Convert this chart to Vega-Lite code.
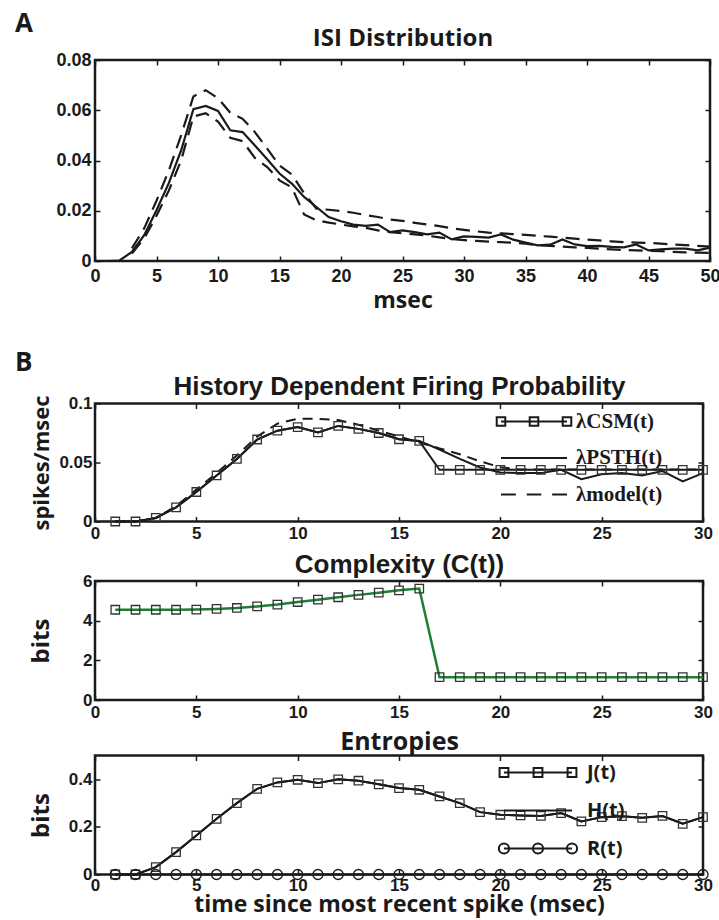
{
  "$schema": "https://vega.github.io/schema/vega-lite/v6.json",
  "padding": {"left": 13, "top": 9, "right": 0, "bottom": 0},
  "spacing": 5.5,
  "resolve": {"scale": {"shape": "independent"}, "legend": {"shape": "independent"}},
  "config": {
    "view": {"stroke": "#1a1a1a", "strokeWidth": 2.5},
    "axis": {"grid": false, "domain": false, "tickColor": "#1a1a1a", "tickSize": -5, "tickWidth": 1.5,
      "labelFont": "Liberation Sans", "labelFontWeight": "bold", "labelColor": "#1a1a1a", "labelFontSize": 17,
      "titleFont": "Open Sans", "titleFontWeight": "bold", "titleColor": "#1a1a1a",
      "labelFlush": false, "labelOverlap": false},
    "legend": {"padding": 0, "labelColor": "#1a1a1a", "symbolOpacity": 1, "symbolStrokeWidth": 2},
    "title": {"font": "Open Sans", "fontWeight": "bold", "fontSize": 26, "color": "#1a1a1a", "anchor": "start", "frame": "group"}
  },
  "vconcat": [
    {
      "width": 615, "height": 201,
      "title": {"text": "A", "dx": -80, "offset": -11},
      "data": {"values": [
        {"t":1,"v":0,"s":"ISI"},{"t":2,"v":0.0002,"s":"ISI"},{"t":3,"v":0.0036,"s":"ISI"},{"t":4,"v":0.0103,"s":"ISI"},{"t":5,"v":0.0202,"s":"ISI"},
        {"t":6,"v":0.031,"s":"ISI"},{"t":7,"v":0.044,"s":"ISI"},{"t":8,"v":0.0604,"s":"ISI"},{"t":9,"v":0.0617,"s":"ISI"},{"t":10,"v":0.0597,"s":"ISI"},
        {"t":11,"v":0.052,"s":"ISI"},{"t":12,"v":0.0513,"s":"ISI"},{"t":13,"v":0.046,"s":"ISI"},{"t":14,"v":0.0405,"s":"ISI"},{"t":15,"v":0.0348,"s":"ISI"},
        {"t":16,"v":0.0308,"s":"ISI"},{"t":17,"v":0.0255,"s":"ISI"},{"t":18,"v":0.0215,"s":"ISI"},{"t":19,"v":0.0175,"s":"ISI"},{"t":20,"v":0.0158,"s":"ISI"},
        {"t":21,"v":0.0145,"s":"ISI"},{"t":22,"v":0.014,"s":"ISI"},{"t":23,"v":0.0145,"s":"ISI"},{"t":24,"v":0.0115,"s":"ISI"},{"t":25,"v":0.0122,"s":"ISI"},
        {"t":26,"v":0.0115,"s":"ISI"},{"t":27,"v":0.0106,"s":"ISI"},{"t":28,"v":0.0113,"s":"ISI"},{"t":29,"v":0.0086,"s":"ISI"},{"t":30,"v":0.0098,"s":"ISI"},
        {"t":31,"v":0.0096,"s":"ISI"},{"t":32,"v":0.0093,"s":"ISI"},{"t":33,"v":0.0106,"s":"ISI"},{"t":34,"v":0.0085,"s":"ISI"},{"t":35,"v":0.0073,"s":"ISI"},
        {"t":36,"v":0.0062,"s":"ISI"},{"t":37,"v":0.0065,"s":"ISI"},{"t":38,"v":0.0086,"s":"ISI"},{"t":39,"v":0.0066,"s":"ISI"},{"t":40,"v":0.0059,"s":"ISI"},
        {"t":41,"v":0.006,"s":"ISI"},{"t":42,"v":0.0056,"s":"ISI"},{"t":43,"v":0.0054,"s":"ISI"},{"t":44,"v":0.0066,"s":"ISI"},{"t":45,"v":0.0042,"s":"ISI"},
        {"t":46,"v":0.0046,"s":"ISI"},{"t":47,"v":0.0049,"s":"ISI"},{"t":48,"v":0.0049,"s":"ISI"},{"t":49,"v":0.0042,"s":"ISI"},{"t":50,"v":0.0053,"s":"ISI"},
        {"t":3,"v":0.005,"s":"upper"},{"t":4,"v":0.013,"s":"upper"},{"t":5,"v":0.024,"s":"upper"},{"t":6,"v":0.036,"s":"upper"},{"t":7,"v":0.05,"s":"upper"},
        {"t":8,"v":0.0655,"s":"upper"},{"t":9,"v":0.068,"s":"upper"},{"t":10,"v":0.0648,"s":"upper"},{"t":11,"v":0.059,"s":"upper"},{"t":12,"v":0.0566,"s":"upper"},
        {"t":13,"v":0.0513,"s":"upper"},{"t":14,"v":0.0447,"s":"upper"},{"t":15,"v":0.038,"s":"upper"},{"t":16,"v":0.0345,"s":"upper"},{"t":17,"v":0.027,"s":"upper"},
        {"t":18,"v":0.0208,"s":"upper"},{"t":19,"v":0.0204,"s":"upper"},{"t":20,"v":0.0199,"s":"upper"},{"t":21,"v":0.0192,"s":"upper"},{"t":22,"v":0.0183,"s":"upper"},
        {"t":23,"v":0.0175,"s":"upper"},{"t":24,"v":0.0165,"s":"upper"},{"t":25,"v":0.016,"s":"upper"},{"t":26,"v":0.0152,"s":"upper"},{"t":27,"v":0.0145,"s":"upper"},
        {"t":28,"v":0.0139,"s":"upper"},{"t":29,"v":0.013,"s":"upper"},{"t":30,"v":0.0124,"s":"upper"},{"t":31,"v":0.0118,"s":"upper"},{"t":32,"v":0.0113,"s":"upper"},
        {"t":33,"v":0.011,"s":"upper"},{"t":34,"v":0.0107,"s":"upper"},{"t":35,"v":0.0104,"s":"upper"},{"t":36,"v":0.01,"s":"upper"},{"t":37,"v":0.0097,"s":"upper"},
        {"t":38,"v":0.0093,"s":"upper"},{"t":39,"v":0.0089,"s":"upper"},{"t":40,"v":0.0085,"s":"upper"},{"t":41,"v":0.0082,"s":"upper"},{"t":42,"v":0.0078,"s":"upper"},
        {"t":43,"v":0.0075,"s":"upper"},{"t":44,"v":0.0073,"s":"upper"},{"t":45,"v":0.0072,"s":"upper"},{"t":46,"v":0.0069,"s":"upper"},{"t":47,"v":0.0066,"s":"upper"},
        {"t":48,"v":0.0063,"s":"upper"},{"t":49,"v":0.006,"s":"upper"},{"t":50,"v":0.0057,"s":"upper"},
        {"t":3,"v":0.003,"s":"lower"},{"t":4,"v":0.009,"s":"lower"},{"t":5,"v":0.018,"s":"lower"},{"t":6,"v":0.028,"s":"lower"},{"t":7,"v":0.04,"s":"lower"},
        {"t":8,"v":0.0575,"s":"lower"},{"t":9,"v":0.0588,"s":"lower"},{"t":10,"v":0.0555,"s":"lower"},{"t":11,"v":0.049,"s":"lower"},{"t":12,"v":0.0477,"s":"lower"},
        {"t":13,"v":0.041,"s":"lower"},{"t":14,"v":0.0374,"s":"lower"},{"t":15,"v":0.0321,"s":"lower"},{"t":16,"v":0.0293,"s":"lower"},{"t":17,"v":0.0185,"s":"lower"},
        {"t":18,"v":0.0162,"s":"lower"},{"t":19,"v":0.0153,"s":"lower"},{"t":20,"v":0.0145,"s":"lower"},{"t":21,"v":0.0138,"s":"lower"},{"t":22,"v":0.0132,"s":"lower"},
        {"t":23,"v":0.0122,"s":"lower"},{"t":24,"v":0.0115,"s":"lower"},{"t":25,"v":0.011,"s":"lower"},{"t":26,"v":0.0106,"s":"lower"},{"t":27,"v":0.0101,"s":"lower"},
        {"t":28,"v":0.0094,"s":"lower"},{"t":29,"v":0.0087,"s":"lower"},{"t":30,"v":0.0083,"s":"lower"},{"t":31,"v":0.008,"s":"lower"},{"t":32,"v":0.0077,"s":"lower"},
        {"t":33,"v":0.0075,"s":"lower"},{"t":34,"v":0.0073,"s":"lower"},{"t":35,"v":0.0069,"s":"lower"},{"t":36,"v":0.0063,"s":"lower"},{"t":37,"v":0.006,"s":"lower"},
        {"t":38,"v":0.0057,"s":"lower"},{"t":39,"v":0.0054,"s":"lower"},{"t":40,"v":0.0052,"s":"lower"},{"t":41,"v":0.0049,"s":"lower"},{"t":42,"v":0.0046,"s":"lower"},
        {"t":43,"v":0.0044,"s":"lower"},{"t":44,"v":0.0042,"s":"lower"},{"t":45,"v":0.0041,"s":"lower"},{"t":46,"v":0.0039,"s":"lower"},{"t":47,"v":0.0036,"s":"lower"},
        {"t":48,"v":0.0034,"s":"lower"},{"t":49,"v":0.0033,"s":"lower"},{"t":50,"v":0.0032,"s":"lower"}
      ]},
      "layer": [
        {
          "transform": [{"filter": "datum.s === 'ISI'"}],
          "mark": {"type": "line", "color": "#1a1a1a", "strokeWidth": 2.2},
          "encoding": {
            "x": {"field": "t", "type": "quantitative", "scale": {"domain": [0, 50], "nice": false},
              "axis": {"orient": "bottom", "values": [0,5,10,15,20,25,30,35,40,45,50], "title": "msec", "titleFontSize": 23, "titlePadding": 4, "labelFontSize": 18, "labelPadding": 11}},
            "y": {"field": "v", "type": "quantitative", "scale": {"domain": [0, 0.08], "nice": false},
              "axis": {"orient": "left", "values": [0,0.02,0.04,0.06,0.08], "format": ".2~f", "title": null, "labelFontSize": 18, "labelPadding": 9}}
          }
        },
        {
          "transform": [{"filter": "datum.s !== 'ISI'"}],
          "mark": {"type": "line", "color": "#1a1a1a", "strokeWidth": 2.2, "strokeDash": [14, 8]},
          "encoding": {
            "x": {"field": "t", "type": "quantitative", "scale": {"domain": [0, 50], "nice": false},
              "axis": {"orient": "top", "values": [0,5,10,15,20,25,30,35,40,45,50], "labels": false, "title": "ISI Distribution", "titleFontSize": 24, "minExtent": 0, "maxExtent": 0, "titlePadding": 10}},
            "y": {"field": "v", "type": "quantitative", "scale": {"domain": [0, 0.08], "nice": false},
              "axis": {"orient": "right", "values": [0,0.02,0.04,0.06,0.08], "labels": false, "title": null}},
            "detail": {"field": "s"}
          }
        }
      ],
      "resolve": {"axis": {"x": "independent", "y": "independent"}}
    },
    {
      "width": 608, "height": 118,
      "title": {"text": ["", "B"], "lineHeight": 28, "dx": -80, "offset": -2},
      "data": {"values": [
        {"t":1,"v":0,"s":"λCSM(t)"},{"t":2,"v":0,"s":"λCSM(t)"},{"t":3,"v":0.003,"s":"λCSM(t)"},{"t":4,"v":0.012,"s":"λCSM(t)"},{"t":5,"v":0.025,"s":"λCSM(t)"},
        {"t":6,"v":0.039,"s":"λCSM(t)"},{"t":7,"v":0.053,"s":"λCSM(t)"},{"t":8,"v":0.0695,"s":"λCSM(t)"},{"t":9,"v":0.077,"s":"λCSM(t)"},{"t":10,"v":0.08,"s":"λCSM(t)"},
        {"t":11,"v":0.0755,"s":"λCSM(t)"},{"t":12,"v":0.081,"s":"λCSM(t)"},{"t":13,"v":0.0785,"s":"λCSM(t)"},{"t":14,"v":0.075,"s":"λCSM(t)"},{"t":15,"v":0.0697,"s":"λCSM(t)"},
        {"t":16,"v":0.0683,"s":"λCSM(t)"},{"t":17,"v":0.0438,"s":"λCSM(t)"},{"t":18,"v":0.0438,"s":"λCSM(t)"},{"t":19,"v":0.0438,"s":"λCSM(t)"},{"t":20,"v":0.0438,"s":"λCSM(t)"},
        {"t":21,"v":0.0438,"s":"λCSM(t)"},{"t":22,"v":0.0438,"s":"λCSM(t)"},{"t":23,"v":0.0438,"s":"λCSM(t)"},{"t":24,"v":0.0438,"s":"λCSM(t)"},{"t":25,"v":0.0438,"s":"λCSM(t)"},
        {"t":26,"v":0.0438,"s":"λCSM(t)"},{"t":27,"v":0.0438,"s":"λCSM(t)"},{"t":28,"v":0.0438,"s":"λCSM(t)"},{"t":29,"v":0.0438,"s":"λCSM(t)"},{"t":30,"v":0.0438,"s":"λCSM(t)"},
        {"t":1,"v":0,"s":"λPSTH(t)"},{"t":2,"v":0,"s":"λPSTH(t)"},{"t":3,"v":0.003,"s":"λPSTH(t)"},{"t":4,"v":0.012,"s":"λPSTH(t)"},{"t":5,"v":0.025,"s":"λPSTH(t)"},
        {"t":6,"v":0.039,"s":"λPSTH(t)"},{"t":7,"v":0.053,"s":"λPSTH(t)"},{"t":8,"v":0.0695,"s":"λPSTH(t)"},{"t":9,"v":0.077,"s":"λPSTH(t)"},{"t":10,"v":0.08,"s":"λPSTH(t)"},
        {"t":11,"v":0.0755,"s":"λPSTH(t)"},{"t":12,"v":0.081,"s":"λPSTH(t)"},{"t":13,"v":0.0785,"s":"λPSTH(t)"},{"t":14,"v":0.075,"s":"λPSTH(t)"},{"t":15,"v":0.0697,"s":"λPSTH(t)"},
        {"t":16,"v":0.0683,"s":"λPSTH(t)"},{"t":17,"v":0.061,"s":"λPSTH(t)"},{"t":18,"v":0.053,"s":"λPSTH(t)"},{"t":19,"v":0.0458,"s":"λPSTH(t)"},{"t":20,"v":0.0415,"s":"λPSTH(t)"},
        {"t":21,"v":0.041,"s":"λPSTH(t)"},{"t":22,"v":0.041,"s":"λPSTH(t)"},{"t":23,"v":0.0438,"s":"λPSTH(t)"},{"t":24,"v":0.0358,"s":"λPSTH(t)"},{"t":25,"v":0.04,"s":"λPSTH(t)"},
        {"t":26,"v":0.041,"s":"λPSTH(t)"},{"t":27,"v":0.039,"s":"λPSTH(t)"},{"t":28,"v":0.0427,"s":"λPSTH(t)"},{"t":29,"v":0.034,"s":"λPSTH(t)"},{"t":30,"v":0.041,"s":"λPSTH(t)"},
        {"t":1,"v":0,"s":"λmodel(t)"},{"t":2,"v":0,"s":"λmodel(t)"},{"t":3,"v":0.003,"s":"λmodel(t)"},{"t":4,"v":0.013,"s":"λmodel(t)"},{"t":5,"v":0.027,"s":"λmodel(t)"},
        {"t":6,"v":0.041,"s":"λmodel(t)"},{"t":7,"v":0.056,"s":"λmodel(t)"},{"t":8,"v":0.072,"s":"λmodel(t)"},{"t":9,"v":0.083,"s":"λmodel(t)"},{"t":10,"v":0.087,"s":"λmodel(t)"},
        {"t":11,"v":0.087,"s":"λmodel(t)"},{"t":12,"v":0.086,"s":"λmodel(t)"},{"t":13,"v":0.082,"s":"λmodel(t)"},{"t":14,"v":0.077,"s":"λmodel(t)"},{"t":15,"v":0.072,"s":"λmodel(t)"},
        {"t":16,"v":0.067,"s":"λmodel(t)"},{"t":17,"v":0.062,"s":"λmodel(t)"},{"t":18,"v":0.057,"s":"λmodel(t)"},{"t":19,"v":0.051,"s":"λmodel(t)"},{"t":20,"v":0.046,"s":"λmodel(t)"},
        {"t":21,"v":0.044,"s":"λmodel(t)"},{"t":22,"v":0.044,"s":"λmodel(t)"},{"t":23,"v":0.044,"s":"λmodel(t)"},{"t":24,"v":0.044,"s":"λmodel(t)"},{"t":25,"v":0.044,"s":"λmodel(t)"},
        {"t":26,"v":0.044,"s":"λmodel(t)"},{"t":27,"v":0.044,"s":"λmodel(t)"},{"t":28,"v":0.044,"s":"λmodel(t)"},{"t":29,"v":0.044,"s":"λmodel(t)"},{"t":30,"v":0.044,"s":"λmodel(t)"}
      ]},
      "layer": [
        {
          "transform": [{"filter": "datum.s !== 'λmodel(t)'"}],
          "mark": {"type": "line", "color": "#1a1a1a", "strokeWidth": 2},
          "encoding": {
            "x": {"field": "t", "type": "quantitative", "scale": {"domain": [0, 30], "nice": false},
              "axis": {"orient": "bottom", "values": [0,5,10,15,20,25,30], "title": null, "labelPadding": 9}},
            "y": {"field": "v", "type": "quantitative", "scale": {"domain": [0, 0.1], "nice": false},
              "axis": {"orient": "left", "values": [0,0.05,0.1], "format": ".2~f", "title": "spikes/msec", "titleFontSize": 22, "labelPadding": 8, "minExtent": 36, "maxExtent": 36, "titlePadding": 6}},
            "detail": {"field": "s"}
          }
        },
        {
          "transform": [{"filter": "datum.s === 'λmodel(t)'"}],
          "mark": {"type": "line", "color": "#1a1a1a", "strokeWidth": 2, "strokeDash": [10, 7]},
          "encoding": {
            "x": {"field": "t", "type": "quantitative", "axis": null},
            "y": {"field": "v", "type": "quantitative", "axis": null}
          }
        },
        {
          "transform": [{"filter": "datum.s === 'λCSM(t)'"}],
          "mark": {"type": "point", "shape": "square", "filled": false, "color": "#333333", "size": 72, "strokeWidth": 1.3, "opacity": 1},
          "encoding": {
            "x": {"field": "t", "type": "quantitative", "scale": {"domain": [0, 30], "nice": false},
              "axis": {"orient": "top", "values": [0,5,10,15,20,25,30], "labels": false, "title": "History Dependent Firing Probability", "titleFont": "Liberation Sans", "titleFontSize": 26, "minExtent": 0, "maxExtent": 0, "titlePadding": 4}},
            "y": {"field": "v", "type": "quantitative", "scale": {"domain": [0, 0.1], "nice": false},
              "axis": {"orient": "right", "values": [0,0.05,0.1], "labels": false, "title": null}}
          }
        },
        {
          "mark": {"type": "point", "filled": false, "color": "#1a1a1a", "size": 1, "opacity": 0},
          "encoding": {
            "x": {"field": "t", "type": "quantitative", "axis": null},
            "y": {"field": "v", "type": "quantitative", "axis": null},
            "shape": {"field": "s", "type": "nominal",
              "scale": {"domain": ["λCSM(t)","λPSTH(t)","λmodel(t)"],
                "range": ["M-1,0H1M-1.13,-0.13h0.26v0.26h-0.26ZM-0.13,-0.13h0.26v0.26h-0.26ZM0.87,-0.13h0.26v0.26h-0.26Z", "M-1,0H1", "M-1,0H-0.55M-0.22,0H0.22M0.55,0H1"]},
              "legend": {"title": null, "orient": "none", "legendX": 400, "legendY": 6, "symbolSize": 4356, "clipHeight": 24, "rowPadding": 12.5,
                "labelFont": "Liberation Serif", "labelFontSize": 21, "labelFontWeight": "bold", "labelOffset": 8, "symbolOffset": 5, "labelLimit": 300}}
          }
        }
      ],
      "resolve": {"axis": {"x": "independent", "y": "independent"}}
    },
    {
      "width": 608, "height": 119,
      "data": {"values": [
        {"t":1,"c":4.55},{"t":2,"c":4.55},{"t":3,"c":4.55},{"t":4,"c":4.55},{"t":5,"c":4.56},{"t":6,"c":4.59},{"t":7,"c":4.64},{"t":8,"c":4.72},{"t":9,"c":4.81},{"t":10,"c":4.94},
        {"t":11,"c":5.06},{"t":12,"c":5.18},{"t":13,"c":5.3},{"t":14,"c":5.41},{"t":15,"c":5.53},{"t":16,"c":5.62},{"t":17,"c":1.15},{"t":18,"c":1.15},{"t":19,"c":1.15},{"t":20,"c":1.15},
        {"t":21,"c":1.15},{"t":22,"c":1.15},{"t":23,"c":1.15},{"t":24,"c":1.15},{"t":25,"c":1.15},{"t":26,"c":1.15},{"t":27,"c":1.15},{"t":28,"c":1.15},{"t":29,"c":1.15},{"t":30,"c":1.15}
      ]},
      "layer": [
        {
          "mark": {"type": "line", "color": "#1f7d34", "strokeWidth": 2.5},
          "encoding": {
            "x": {"field": "t", "type": "quantitative", "scale": {"domain": [0, 30], "nice": false},
              "axis": {"orient": "bottom", "values": [0,5,10,15,20,25,30], "title": null, "labelPadding": 9}},
            "y": {"field": "c", "type": "quantitative", "scale": {"domain": [0, 6], "nice": false},
              "axis": {"orient": "left", "values": [0,2,4,6], "title": "bits", "titleFontSize": 24, "labelPadding": 8, "minExtent": 36, "maxExtent": 36, "titlePadding": 6}}
          }
        },
        {
          "mark": {"type": "point", "shape": "square", "filled": false, "color": "#333333", "size": 72, "strokeWidth": 1.3, "opacity": 1},
          "encoding": {
            "x": {"field": "t", "type": "quantitative", "scale": {"domain": [0, 30], "nice": false},
              "axis": {"orient": "top", "values": [0,5,10,15,20,25,30], "labels": false, "title": "Complexity (C(t))", "titleFont": "Liberation Sans", "titleFontSize": 26, "minExtent": 0, "maxExtent": 0, "titlePadding": 4}},
            "y": {"field": "c", "type": "quantitative", "scale": {"domain": [0, 6], "nice": false},
              "axis": {"orient": "right", "values": [0,2,4,6], "labels": false, "title": null}}
          }
        }
      ],
      "resolve": {"axis": {"x": "independent", "y": "independent"}}
    },
    {
      "width": 608, "height": 119,
      "data": {"values": [
        {"t":1,"v":0,"s":"J(t)"},{"t":2,"v":0,"s":"J(t)"},{"t":3,"v":0.031,"s":"J(t)"},{"t":4,"v":0.094,"s":"J(t)"},{"t":5,"v":0.164,"s":"J(t)"},
        {"t":6,"v":0.234,"s":"J(t)"},{"t":7,"v":0.3,"s":"J(t)"},{"t":8,"v":0.36,"s":"J(t)"},{"t":9,"v":0.387,"s":"J(t)"},{"t":10,"v":0.398,"s":"J(t)"},
        {"t":11,"v":0.384,"s":"J(t)"},{"t":12,"v":0.4,"s":"J(t)"},{"t":13,"v":0.394,"s":"J(t)"},{"t":14,"v":0.379,"s":"J(t)"},{"t":15,"v":0.363,"s":"J(t)"},
        {"t":16,"v":0.356,"s":"J(t)"},{"t":17,"v":0.328,"s":"J(t)"},{"t":18,"v":0.3,"s":"J(t)"},{"t":19,"v":0.262,"s":"J(t)"},{"t":20,"v":0.251,"s":"J(t)"},
        {"t":21,"v":0.248,"s":"J(t)"},{"t":22,"v":0.246,"s":"J(t)"},{"t":23,"v":0.258,"s":"J(t)"},{"t":24,"v":0.223,"s":"J(t)"},{"t":25,"v":0.241,"s":"J(t)"},
        {"t":26,"v":0.245,"s":"J(t)"},{"t":27,"v":0.238,"s":"J(t)"},{"t":28,"v":0.246,"s":"J(t)"},{"t":29,"v":0.213,"s":"J(t)"},{"t":30,"v":0.241,"s":"J(t)"},
        {"t":1,"v":0,"s":"H(t)"},{"t":2,"v":0,"s":"H(t)"},{"t":3,"v":0.031,"s":"H(t)"},{"t":4,"v":0.094,"s":"H(t)"},{"t":5,"v":0.164,"s":"H(t)"},
        {"t":6,"v":0.234,"s":"H(t)"},{"t":7,"v":0.3,"s":"H(t)"},{"t":8,"v":0.36,"s":"H(t)"},{"t":9,"v":0.387,"s":"H(t)"},{"t":10,"v":0.398,"s":"H(t)"},
        {"t":11,"v":0.384,"s":"H(t)"},{"t":12,"v":0.4,"s":"H(t)"},{"t":13,"v":0.394,"s":"H(t)"},{"t":14,"v":0.379,"s":"H(t)"},{"t":15,"v":0.363,"s":"H(t)"},
        {"t":16,"v":0.356,"s":"H(t)"},{"t":17,"v":0.328,"s":"H(t)"},{"t":18,"v":0.3,"s":"H(t)"},{"t":19,"v":0.262,"s":"H(t)"},{"t":20,"v":0.251,"s":"H(t)"},
        {"t":21,"v":0.248,"s":"H(t)"},{"t":22,"v":0.246,"s":"H(t)"},{"t":23,"v":0.258,"s":"H(t)"},{"t":24,"v":0.223,"s":"H(t)"},{"t":25,"v":0.241,"s":"H(t)"},
        {"t":26,"v":0.245,"s":"H(t)"},{"t":27,"v":0.238,"s":"H(t)"},{"t":28,"v":0.246,"s":"H(t)"},{"t":29,"v":0.213,"s":"H(t)"},{"t":30,"v":0.241,"s":"H(t)"},
        {"t":1,"v":0,"s":"R(t)"},{"t":2,"v":0,"s":"R(t)"},{"t":3,"v":0,"s":"R(t)"},{"t":4,"v":0,"s":"R(t)"},{"t":5,"v":0,"s":"R(t)"},
        {"t":6,"v":0,"s":"R(t)"},{"t":7,"v":0,"s":"R(t)"},{"t":8,"v":0,"s":"R(t)"},{"t":9,"v":0,"s":"R(t)"},{"t":10,"v":0,"s":"R(t)"},
        {"t":11,"v":0,"s":"R(t)"},{"t":12,"v":0,"s":"R(t)"},{"t":13,"v":0,"s":"R(t)"},{"t":14,"v":0,"s":"R(t)"},{"t":15,"v":0,"s":"R(t)"},
        {"t":16,"v":0,"s":"R(t)"},{"t":17,"v":0,"s":"R(t)"},{"t":18,"v":0,"s":"R(t)"},{"t":19,"v":0,"s":"R(t)"},{"t":20,"v":0,"s":"R(t)"},
        {"t":21,"v":0,"s":"R(t)"},{"t":22,"v":0,"s":"R(t)"},{"t":23,"v":0,"s":"R(t)"},{"t":24,"v":0,"s":"R(t)"},{"t":25,"v":0,"s":"R(t)"},
        {"t":26,"v":0,"s":"R(t)"},{"t":27,"v":0,"s":"R(t)"},{"t":28,"v":0,"s":"R(t)"},{"t":29,"v":0,"s":"R(t)"},{"t":30,"v":0,"s":"R(t)"}
      ]},
      "layer": [
        {
          "mark": {"type": "line", "color": "#1a1a1a", "strokeWidth": 2},
          "encoding": {
            "x": {"field": "t", "type": "quantitative", "scale": {"domain": [0, 30], "nice": false},
              "axis": {"orient": "bottom", "values": [0,5,10,15,20,25,30], "title": "time since most recent spike (msec)", "titleFontSize": 23, "titlePadding": 0, "labelPadding": 8}},
            "y": {"field": "v", "type": "quantitative", "scale": {"domain": [0, 0.5], "nice": false},
              "axis": {"orient": "left", "values": [0,0.2,0.4], "format": ".1~f", "title": "bits", "titleFontSize": 24, "labelPadding": 8, "minExtent": 36, "maxExtent": 36, "titlePadding": 6}},
            "detail": {"field": "s"}
          }
        },
        {
          "transform": [{"filter": "datum.s === 'J(t)'"}],
          "mark": {"type": "point", "shape": "square", "filled": false, "color": "#333333", "size": 72, "strokeWidth": 1.3, "opacity": 1},
          "encoding": {
            "x": {"field": "t", "type": "quantitative", "scale": {"domain": [0, 30], "nice": false},
              "axis": {"orient": "top", "values": [0,5,10,15,20,25,30], "labels": false, "title": "Entropies", "titleFontSize": 25, "minExtent": 0, "maxExtent": 0, "titlePadding": 1.5}},
            "y": {"field": "v", "type": "quantitative", "scale": {"domain": [0, 0.5], "nice": false},
              "axis": {"orient": "right", "values": [0,0.2,0.4], "labels": false, "title": null}}
          }
        },
        {
          "transform": [{"filter": "datum.s === 'R(t)'"}],
          "mark": {"type": "point", "shape": "circle", "filled": false, "color": "#1a1a1a", "size": 100, "strokeWidth": 1.3, "opacity": 1},
          "encoding": {
            "x": {"field": "t", "type": "quantitative", "axis": null},
            "y": {"field": "v", "type": "quantitative", "axis": null}
          }
        },
        {
          "mark": {"type": "point", "filled": false, "color": "#1a1a1a", "size": 1, "opacity": 0},
          "encoding": {
            "x": {"field": "t", "type": "quantitative", "axis": null},
            "y": {"field": "v", "type": "quantitative", "axis": null},
            "shape": {"field": "s", "type": "nominal",
              "scale": {"domain": ["J(t)","H(t)","R(t)"],
                "range": ["M-1,0H1M-1.13,-0.13h0.26v0.26h-0.26ZM-0.13,-0.13h0.26v0.26h-0.26ZM0.87,-0.13h0.26v0.26h-0.26Z", "M-1,0H1",
                  "M-1,0H1M-1.15,0a0.15,0.15 0 1,0 0.3,0a0.15,0.15 0 1,0 -0.3,0M-0.15,0a0.15,0.15 0 1,0 0.3,0a0.15,0.15 0 1,0 -0.3,0M0.85,0a0.15,0.15 0 1,0 0.3,0a0.15,0.15 0 1,0 -0.3,0"]},
              "legend": {"title": null, "orient": "none", "legendX": 403, "legendY": 5, "symbolSize": 4624, "clipHeight": 24, "rowPadding": 14,
                "labelFont": "Open Sans", "labelFontSize": 20, "labelFontWeight": "bold", "labelOffset": 14, "symbolOffset": 5, "labelLimit": 300}}
          }
        }
      ],
      "resolve": {"axis": {"x": "independent", "y": "independent"}}
    }
  ]
}
